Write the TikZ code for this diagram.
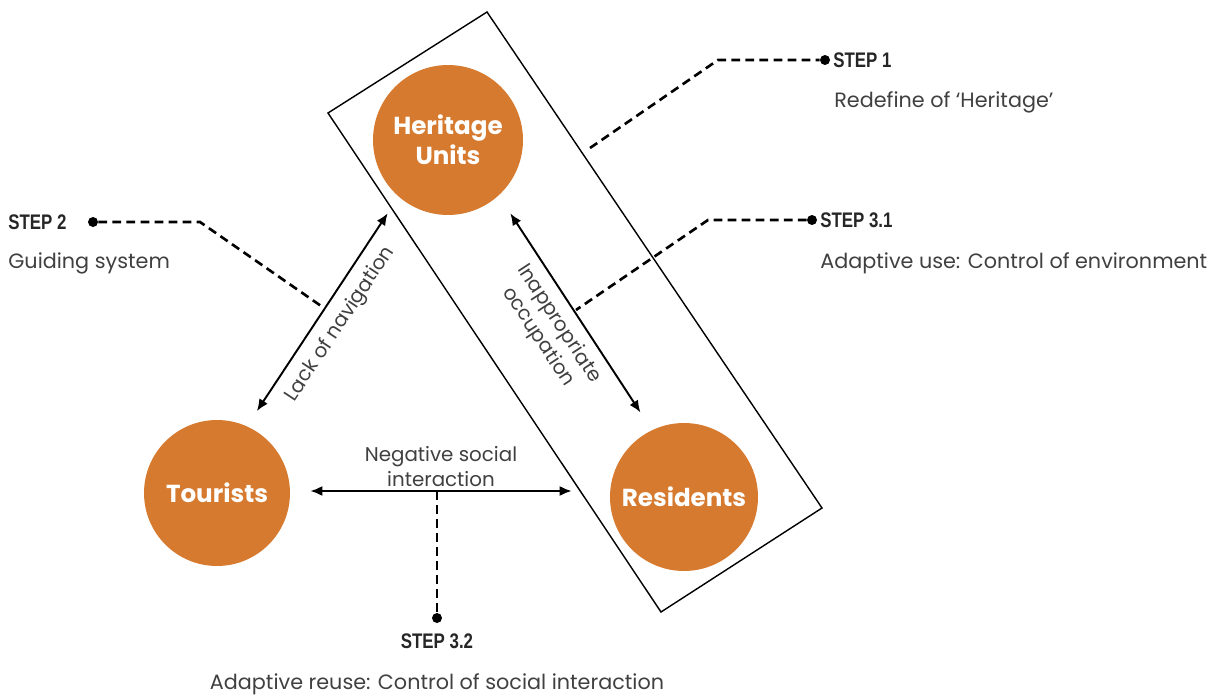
\documentclass[tikz,border=0pt]{standalone}
\usepackage{fontspec}
\setmainfont{Poppins}
\newfontfamily\stepfont{Liberation Sans}[FakeStretch=0.8]
\usepackage{tikz}
\usetikzlibrary{arrows.meta}

\definecolor{heritageorange}{RGB}{214,122,48}
\definecolor{textgrey}{RGB}{64,64,64}

\begin{document}
\begin{tikzpicture}[x=0.02cm, y=-0.02cm,
    hub/.style={circle, fill=heritageorange, minimum size=3cm, inner sep=0pt,
      text=white, align=center, font=\fontsize{14}{17}\selectfont\bfseries},
    link/.style={{Latex[length=2.4mm,width=2mm]}-{Latex[length=2.4mm,width=2mm]}, line width=1.1pt},
    lead/.style={dash pattern=on 5pt off 3pt, line width=1.5pt},
    stepdot/.style={circle, fill=black, inner sep=0pt, minimum size=0.2cm},
    steptitle/.style={inner sep=0pt, text=black!85, font=\fontsize{12}{14}\stepfont\bfseries},
    stepnote/.style={inner sep=0pt, text=textgrey, font=\fontsize{11.8}{14}\selectfont},
    tag/.style={text=textgrey, align=center, inner sep=2pt, font=\fontsize{11.3}{14}\selectfont}]
    \useasboundingbox (0,0) rectangle (1213,696);

    % the three actors
    \node[hub] (her) at (448,140) {Heritage\\Units};
    \node[hub, minimum size=2.92cm] (tour) at (217,493) {Tourists};
    \node[hub, minimum size=2.96cm] (res) at (684,497) {Residents};

    % frame round heritage and residents
    \draw[line width=0.8pt] (328,113) -- (487,12) -- (822,508) -- (661,612) -- cycle;

    % relations
    \draw[link] ([shift={(-12,-30)}]tour.north east) -- ([shift={(-7,20)}]her.south west)
      node[midway, sloped, below=4pt, tag] {Lack of navigation};
    \draw[link] ([shift={(9,20)}]her.south east) -- ([shift={(9,-32)}]res.north west)
      node[midway, sloped, below=3pt, tag] {Inappropriate\\occupation};
    \draw[link] ([shift={(20,-2)}]tour.east) -- ([shift={(-38,-6)}]res.west)
      node[midway, above, tag] {Negative social\\interaction};

    % step 1
    \coordinate (p1) at (590,148);
    \node[stepdot] (d1) at (825,60) {};
    \node[steptitle, anchor=west] (s1) at (833,60) {STEP 1};
    \node[stepnote, anchor=west] (n1) at (834,102) {Redefine of ‘Heritage’};
    \draw[lead] (p1) -- (718,60) -- (d1);

    % step 2
    \coordinate (p2) at (324,308);
    \node[stepdot] (d2) at (93,222) {};
    \node[steptitle, anchor=west] (s2) at (8,222) {STEP 2};
    \node[stepnote, anchor=west] (n2) at (8,263) {Guiding system};
    \draw[lead] (d2) -- (200,222) -- (p2);

    % step 3.1
    \coordinate (p31) at (576,310);
    \node[stepdot] (d31) at (812,220) {};
    \node[steptitle, anchor=west] (s31) at (820,220) {STEP 3.1};
    \node[stepnote, anchor=west] (n31) at (820,263) {Adaptive use: Control of environment};
    \draw[lead] (d31) -- (708,220) -- (p31);

    % step 3.2
    \coordinate (p32) at (437,491);
    \node[stepdot] (d32) at (437,618) {};
    \node[steptitle] (s32) at (437,641) {STEP 3.2};
    \node[stepnote] (n32) at (437,684) {Adaptive reuse: Control of social interaction};
    \draw[lead] (p32) -- (d32);
  \end{tikzpicture}
\end{document}
